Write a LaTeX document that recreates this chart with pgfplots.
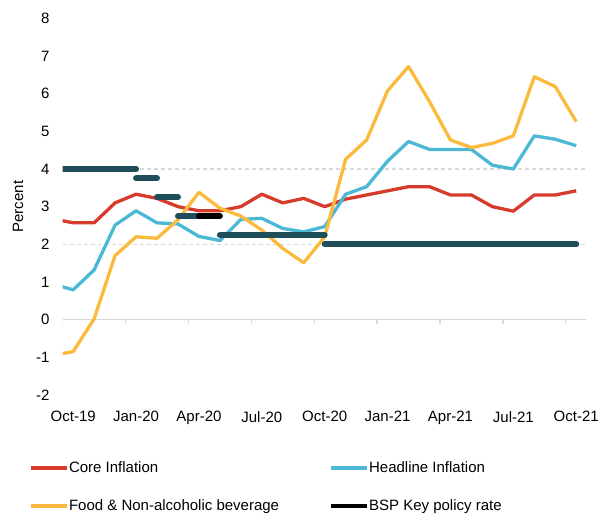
\documentclass[border=0pt]{standalone}
\usepackage{fontspec}
\setmainfont{Liberation Sans}
\usepackage{pgfplots}
\pgfplotsset{compat=1.18}
\definecolor{coreRed}{HTML}{D63B2C}
\definecolor{headBlue}{HTML}{4BB9D6}
\definecolor{foodYellow}{HTML}{FBBA3D}
\definecolor{bspTeal}{HTML}{1F4E5A}
\definecolor{axisGrey}{HTML}{D9D9D9}
\newcommand{\chartfont}{\fontsize{15bp}{18bp}\selectfont}

\begin{document}
\begin{tikzpicture}
\useasboundingbox (-62.7bp,-119.1bp) rectangle (539.3bp,394.9bp);
\begin{axis}[
    scale only axis,
    width=524bp, height=376.5bp,
    xmin=-0.5, xmax=24.5, ymin=-2, ymax=8,
    axis line style={draw=none},
    xtick={0,3,...,24},
    xticklabels={Oct-19,Jan-20,Apr-20,Jul-20,Oct-20,Jan-21,Apr-21,Jul-21,Oct-21},
    ytick={-2,-1,...,8},
    major tick length=0pt,
    extra y ticks={2,4},
    extra y tick labels={},
    extra y tick style={grid=major},
    major grid style={axisGrey, line width=1.3bp, dash pattern=on 4bp off 3bp},
    tick label style={font=\chartfont},
    /pgf/number format/assume math mode=true,
    xticklabel style={yshift=-13bp},
    yticklabel style={xshift=-9.7bp},
    ylabel={Percent},
    ylabel style={font=\chartfont, at={([xshift=-44.7bp]axis description cs:0,0.5)}, anchor=center},
    legend columns=2,
    legend cell align=left,
    legend style={draw=none, fill=none, font=\chartfont,
        at={(axis description cs:0,0)}, anchor=north west,
        xshift=-33.4bp, yshift=-66.4bp, inner sep=0pt, outer sep=0pt,
        nodes={inner sep=0pt, text height=11bp, text depth=3bp},
        row sep=23.7bp,
        /tikz/every odd column/.append style={column sep=0bp},
        /tikz/every even column/.append style={column sep=50.3bp}},
    legend image code/.code={\draw[#1, line width=4bp, line cap=butt] (0bp,0bp) -- (35.7bp,0bp);},
    every axis plot/.append style={line join=round},
]
% x axis line at zero with ticks between the months
\draw[axisGrey, line width=1.8bp] (axis cs:-0.5,0) -- (axis cs:24.5,0);
\pgfplotsinvokeforeach{-0.5,2.5,5.5,8.5,11.5,14.5,17.5,20.5,23.5}{
    \draw[axisGrey, line width=1.3bp] (axis cs:#1,0) -- ([yshift=-4.5bp]axis cs:#1,0);
}

% months: -1 = Sep-19, 0 = Oct-19 ... 24 = Oct-21
\addplot[coreRed, line width=3.3bp] coordinates {
(-1,2.68)(0,2.57)(1,2.57)(2,3.10)(3,3.33)(4,3.22)(5,3.00)(6,2.89)(7,2.89)(8,3.00)
(9,3.33)(10,3.10)(11,3.22)(12,3.00)(13,3.20)(14,3.31)(15,3.42)(16,3.53)(17,3.53)
(18,3.31)(19,3.31)(20,3.00)(21,2.88)(22,3.31)(23,3.31)(24,3.42)};
\addplot[headBlue, line width=3.3bp] coordinates {
(-1,0.95)(0,0.79)(1,1.32)(2,2.51)(3,2.89)(4,2.57)(5,2.54)(6,2.21)(7,2.10)(8,2.66)
(9,2.69)(10,2.42)(11,2.33)(12,2.47)(13,3.33)(14,3.53)(15,4.21)(16,4.73)(17,4.52)
(18,4.52)(19,4.52)(20,4.10)(21,4.00)(22,4.88)(23,4.79)(24,4.62)};
\addplot[foodYellow, line width=3.3bp] coordinates {
(-1,-0.95)(0,-0.85)(1,0.02)(2,1.70)(3,2.20)(4,2.16)(5,2.65)(6,3.38)(7,2.96)(8,2.75)
(9,2.38)(10,1.89)(11,1.51)(12,2.20)(13,4.26)(14,4.77)(15,6.08)(16,6.72)(17,5.79)
(18,4.77)(19,4.57)(20,4.68)(21,4.88)(22,6.45)(23,6.19)(24,5.26)};
\addlegendimage{black}

% BSP key policy rate steps
\addplot[forget plot, bspTeal, line width=6bp, line cap=round] coordinates {(-1,4)(3,4)};
\addplot[forget plot, bspTeal, line width=6bp, line cap=round] coordinates {(3,3.75)(4,3.75)};
\addplot[forget plot, bspTeal, line width=6bp, line cap=round] coordinates {(4,3.25)(5,3.25)};
\addplot[forget plot, bspTeal, line width=6bp, line cap=round] coordinates {(5,2.75)(6,2.75)};
\addplot[forget plot, black, line width=6bp, line cap=round] coordinates {(6,2.75)(7,2.75)};
\addplot[forget plot, bspTeal, line width=6bp, line cap=round] coordinates {(7,2.25)(12,2.25)};
\addplot[forget plot, bspTeal, line width=6bp, line cap=round] coordinates {(12,2)(24,2)};

\legend{Core Inflation, Headline Inflation, Food \& Non-alcoholic beverage, BSP Key policy rate}
\end{axis}
\end{tikzpicture}
\end{document}
